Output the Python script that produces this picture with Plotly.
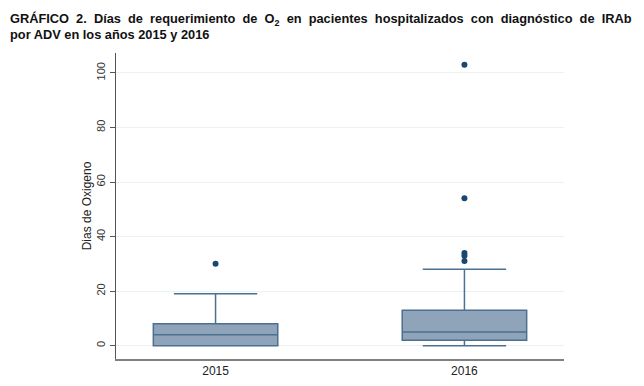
import plotly.graph_objects as go

years = ["2015", "2016"]
q1 = [0, 2]
median = [4, 5]
q3 = [8, 13]
lower_whisker = [0, 0]
upper_whisker = [19, 28]
outliers_2015 = [30]
outliers_2016 = [31, 33, 34, 54, 103]

title_line1 = "GRÁFICO 2. Días de requerimiento de O<sub>2</sub> en pacientes hospitalizados con diagnóstico de IRAb"
title_line2 = "por ADV en los años 2015 y 2016"

ypos = [0, 1]

fig = go.Figure()
fig.add_trace(go.Box(
    x=ypos, q1=q1, median=median, q3=q3,
    lowerfence=lower_whisker, upperfence=upper_whisker,
    width=0.5, whiskerwidth=0.67,
    fillcolor="#8fa4b8",
    line=dict(color="#4a7092", width=1.5),
    boxpoints=False, hoverinfo="skip", showlegend=False,
))
out_x = [ypos[0]] * len(outliers_2015) + [ypos[1]] * len(outliers_2016)
out_y = outliers_2015 + outliers_2016
fig.add_trace(go.Scatter(
    x=out_x, y=out_y, mode="markers",
    marker=dict(color="#1a476f", size=6),
    showlegend=False, hoverinfo="skip",
))

W, H = 628, 370
ML, MR, MT, MB = 108, 72, 45, 19
PW, PH = W - ML - MR, H - MT - MB


def px_x(fx):
    return (fx - ML) / PW


def px_y(fy):
    return 1 - (fy - MT) / PH


def justify(s):
    return s.replace(" ", "\u00a0 ")


title_font = dict(family="Liberation Sans, Arial, sans-serif", size=12.8, color="#111", weight="bold")
fig.add_annotation(text=justify(title_line1), xref="paper", yref="paper",
                   x=px_x(0), y=px_y(12), xanchor="left", yanchor="middle",
                   showarrow=False, font=title_font)
fig.add_annotation(text=title_line2, xref="paper", yref="paper",
                   x=px_x(0), y=px_y(26), xanchor="left", yanchor="middle",
                   showarrow=False, font=title_font)

fig.update_layout(
    width=W, height=H,
    margin=dict(l=ML, r=MR, t=MT, b=MB),
    paper_bgcolor="white", plot_bgcolor="white",
    font=dict(family="Arial, Liberation Sans, sans-serif", color="#222"),
    xaxis=dict(
        range=[-0.4, 1.4], tickvals=ypos, ticktext=years,
        showgrid=False, zeroline=False, automargin=False,
        showline=True, linecolor="#808080", linewidth=2,
        ticks="", tickfont=dict(size=12, color="#222"),
    ),
    yaxis=dict(
        range=[-4.9, 107.3], tickvals=[0, 20, 40, 60, 80, 100],
        tickangle=-90, tickfont=dict(size=11, color="#333"),
        showgrid=True, gridcolor="#eaf2f3", gridwidth=1,
        zeroline=False, automargin=False,
        showline=True, linecolor="#555", linewidth=1,
        ticks="outside", ticklen=5, tickcolor="#555", ticklabelstandoff=1,
        title=dict(text="Dias de Oxigeno", font=dict(size=12, color="#222"), standoff=0),
    ),
)

fig.write_html("out.html")
